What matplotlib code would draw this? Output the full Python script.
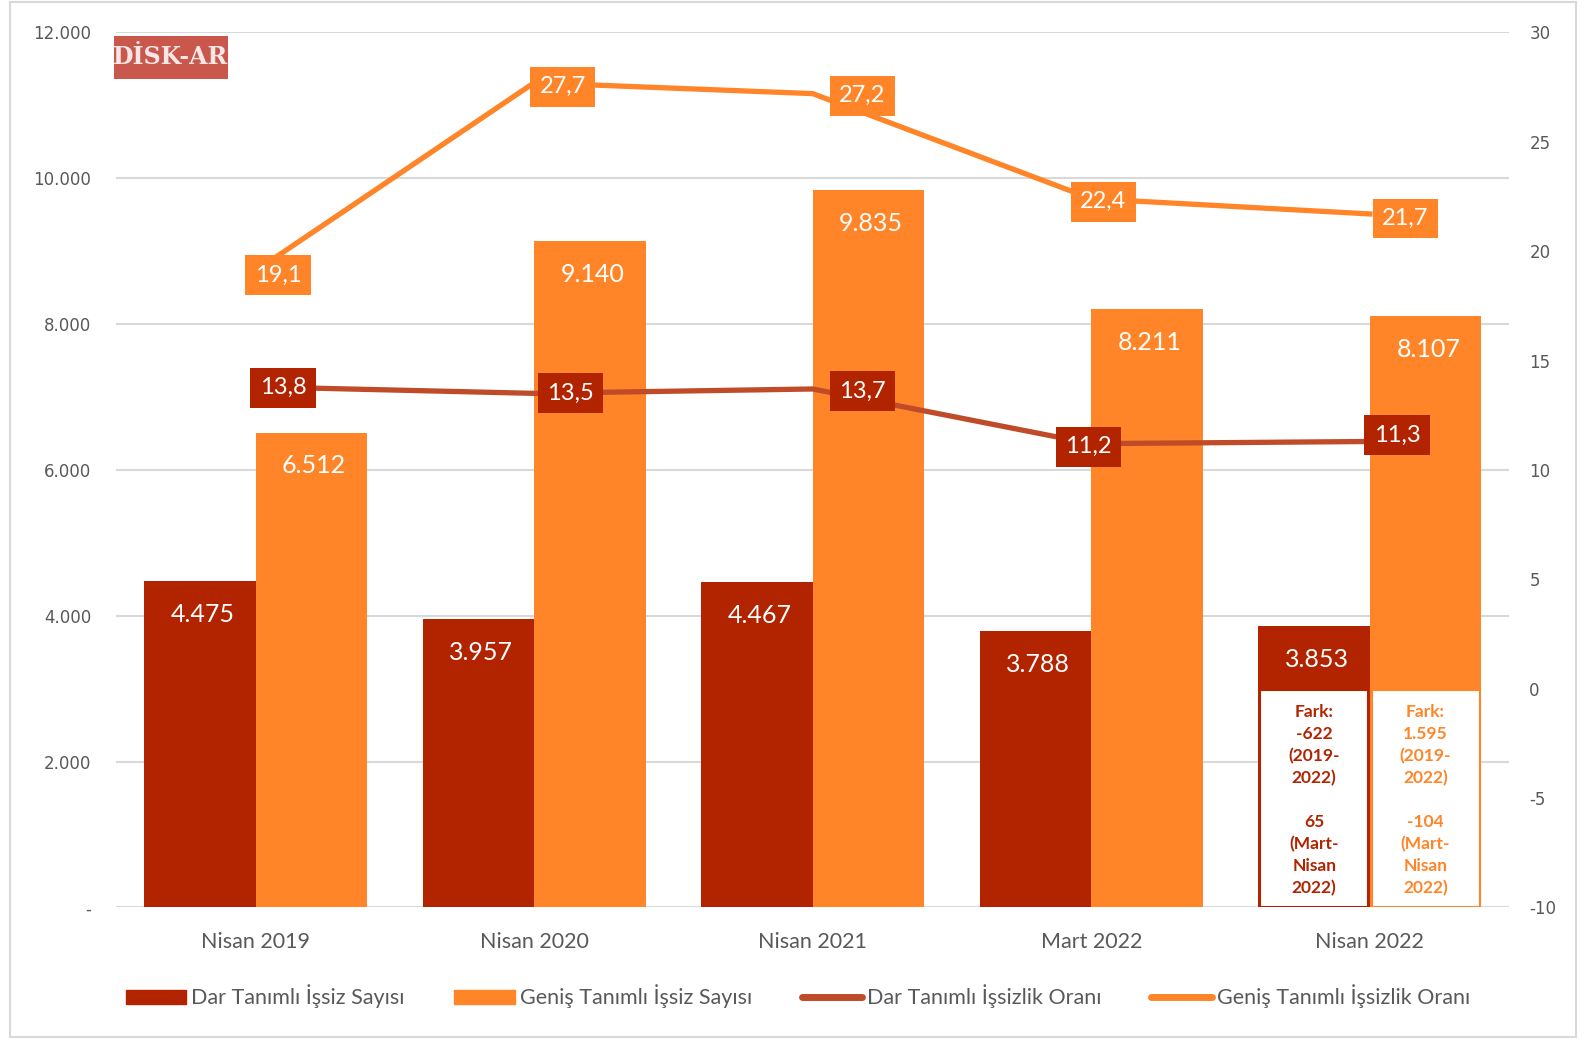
import matplotlib.pyplot as plt
import matplotlib.patches as mpatches
from matplotlib.lines import Line2D
from matplotlib.ticker import FuncFormatter
import numpy as np

plt.rcParams['font.family'] = ['Lato', 'DejaVu Sans']
plt.rcParams['axes.unicode_minus'] = False

# data
categories = ['Nisan 2019', 'Nisan 2020', 'Nisan 2021', 'Mart 2022', 'Nisan 2022']
dar_sayi = [4475, 3957, 4467, 3788, 3853]
genis_sayi = [6512, 9140, 9835, 8211, 8107]
dar_oran = [13.8, 13.5, 13.7, 11.2, 11.3]
genis_oran = [19.1, 27.7, 27.2, 22.4, 21.7]
dar_fark = "Fark:\n-622\n(2019-\n2022)\n\n65\n(Mart-\nNisan\n2022)"
genis_fark = "Fark:\n1.595\n(2019-\n2022)\n\n-104\n(Mart-\nNisan\n2022)"

DARK = '#B22400'
ORANGE = '#FF8528'
DARK_LINE = '#C04B28'
GRAY = '#595959'

W, H = 1568, 1027  # reference px used for placement


def tr(v, dec=0):
    if dec:
        return f"{v:.1f}".replace('.', ',')
    return f"{v:,.0f}".replace(',', '.')


fig = plt.figure(figsize=(15.86, 10.39), dpi=100)
ax = fig.add_axes([115 / W, 1 - 897 / H, (1492 - 115) / W, (897 - 32) / H])
ax2 = ax.twinx()

x = np.arange(len(categories))
w = 0.4
ax.bar(x - w / 2, dar_sayi, w, color=DARK, zorder=2)
ax.bar(x + w / 2, genis_sayi, w, color=ORANGE, zorder=2)

ax.set_xlim(-0.5, 4.5)
ax.set_ylim(0, 12000)
ax.set_yticks(np.arange(0, 12001, 2000))
ax.yaxis.set_major_formatter(FuncFormatter(lambda v, p: '-' if v == 0 else tr(v)))
ax.grid(axis='y', color='#D9D9D9', linewidth=1.5, zorder=0)
ax.set_axisbelow(True)
ax.set_xticks(x)
ax.set_xticklabels(categories, fontsize=15.5, color=GRAY)
ax.tick_params(axis='x', length=0, pad=18)
ax.tick_params(axis='y', length=0, pad=18, labelsize=12, labelcolor=GRAY)
for t in ax.get_yticklabels():
    t.set_family('DejaVu Sans')
for s in ax.spines.values():
    s.set_visible(False)

ax2.set_ylim(-10, 30)
ax2.set_yticks(np.arange(-10, 31, 5))
ax2.tick_params(axis='y', length=0, pad=14.5, labelsize=12, labelcolor=GRAY)
for t in ax2.get_yticklabels():
    t.set_family('DejaVu Sans')
for s in ax2.spines.values():
    s.set_visible(False)

# bar value labels
for xi, v in zip(x - w / 2, dar_sayi):
    ax.annotate(tr(v), (xi, v), xytext=(2, -24), textcoords='offset points',
                ha='center', va='center', color='white', fontsize=18, zorder=4)
for xi, v in zip(x + w / 2, genis_sayi):
    ax.annotate(tr(v), (xi, v), xytext=(2, -24), textcoords='offset points',
                ha='center', va='center', color='white', fontsize=18, zorder=4)

# difference boxes on last category
box_top = 2980
for xc, txt, col in [(x[-1] - w / 2, dar_fark, DARK), (x[-1] + w / 2, genis_fark, ORANGE)]:
    ax.add_patch(mpatches.Rectangle((xc - w / 2 + 0.006, 0), w - 0.012, box_top,
                                    facecolor='white', edgecolor=col, linewidth=1.5, zorder=3))
    ax.text(xc, box_top / 2 - 20, txt, ha='center', va='center', color=col,
            fontsize=12.5, fontweight='bold', linespacing=1.45, zorder=4)

# rate lines
ax2.plot(x, genis_oran, color=ORANGE, linewidth=3.8, zorder=3)
ax2.plot(x, dar_oran, color=DARK_LINE, linewidth=3.8, zorder=3)

genis_off = [(22, 4), (28, 4), (49, 2), (12, 3), (35, 4.5)]
dar_off = [(27, 1), (36, 0), (49, 2), (-3, 3), (27, -6)]
for xi, v, (dx, dy) in zip(x, genis_oran, genis_off):
    ax2.annotate(tr(v, 1), (xi, v), xytext=(dx / 1.37, -dy / 1.37), textcoords='offset points',
                 ha='center', va='center', color='white', fontsize=17, zorder=5,
                 bbox=dict(boxstyle='square,pad=0.4', facecolor=ORANGE, edgecolor='none'))
for xi, v, (dx, dy) in zip(x, dar_oran, dar_off):
    ax2.annotate(tr(v, 1), (xi, v), xytext=(dx / 1.37, -dy / 1.37), textcoords='offset points',
                 ha='center', va='center', color='white', fontsize=17, zorder=5,
                 bbox=dict(boxstyle='square,pad=0.4', facecolor=DARK, edgecolor='none'))

# legend
handles = [mpatches.Patch(color=DARK), mpatches.Patch(color=ORANGE),
           Line2D([], [], color=DARK_LINE, linewidth=5, solid_capstyle='round'),
           Line2D([], [], color=ORANGE, linewidth=5, solid_capstyle='round')]
labels = ['Dar Tanımlı İşsiz Sayısı', 'Geniş Tanımlı İşsiz Sayısı',
          'Dar Tanımlı İşsizlik Oranı', 'Geniş Tanımlı İşsizlik Oranı']
leg = fig.legend(handles, labels, loc='center', bbox_to_anchor=(789 / W, 1 - 985 / H), ncol=4,
                 frameon=False, fontsize=15.5, handlelength=2.8, handleheight=0.65,
                 handletextpad=0.25, columnspacing=2.3)
for t in leg.get_texts():
    t.set_color(GRAY)

# logo
fig.patches.append(mpatches.Rectangle((113 / W, 1 - 78 / H), 112 / W, 42 / H,
                                      transform=fig.transFigure, facecolor='#C0392B',
                                      edgecolor='none', alpha=0.85))
fig.text(169 / W, 1 - 56 / H, 'DİSK-AR', ha='center', va='center', color='#F6E6E6',
         fontsize=17, fontweight='bold', family='DejaVu Serif')

# outer border
fig.patches.append(mpatches.Rectangle((10 / W, 1 - 1025 / H), 1548 / W, 1023 / H,
                                      transform=fig.transFigure, facecolor='none',
                                      edgecolor='#D9D9D9', linewidth=1.5))

fig.savefig('out.png', dpi=100)
